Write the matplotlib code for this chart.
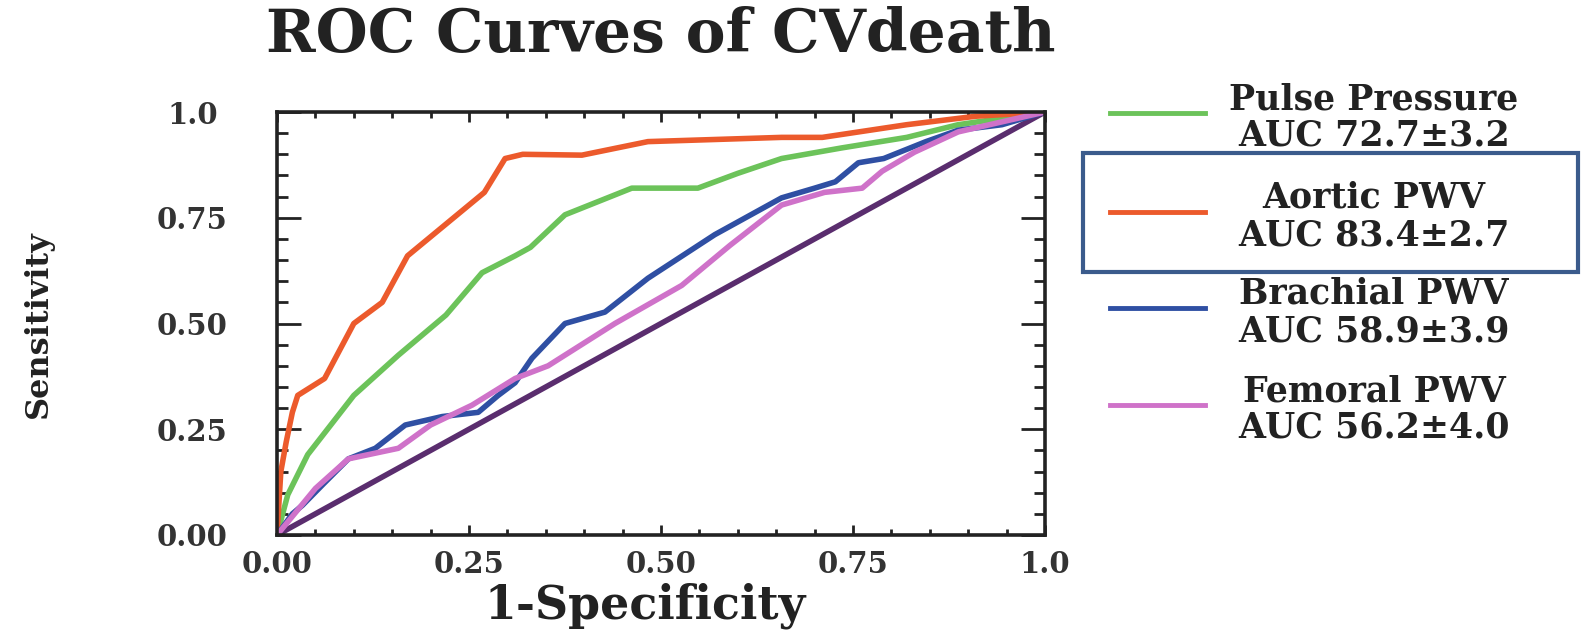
import matplotlib
matplotlib.use("Agg")
import matplotlib.pyplot as plt
from matplotlib.lines import Line2D
from matplotlib.patches import Rectangle
from matplotlib.ticker import MultipleLocator

plt.rcParams['font.family'] = ['DejaVu Serif']
plt.rcParams['font.weight'] = 'bold'

# ROC points (1-specificity, sensitivity) for each marker
pulse_fpr = [0, 0.014, 0.04, 0.07, 0.10, 0.158, 0.22, 0.267, 0.31, 0.33, 0.375,
             0.462, 0.548, 0.60, 0.657, 0.735, 0.82, 0.887, 1.0]
pulse_tpr = [0, 0.095, 0.19, 0.26, 0.33, 0.425, 0.52, 0.62, 0.66, 0.68, 0.757,
             0.82, 0.82, 0.855, 0.89, 0.915, 0.94, 0.97, 1.0]

aortic_fpr = [0, 0.005, 0.012, 0.02, 0.027, 0.062, 0.10, 0.137, 0.17, 0.21, 0.27,
              0.297, 0.32, 0.397, 0.483, 0.657, 0.71, 0.82, 0.91, 1.0]
aortic_tpr = [0, 0.15, 0.22, 0.29, 0.33, 0.37, 0.50, 0.55, 0.66, 0.72, 0.81,
              0.89, 0.90, 0.898, 0.93, 0.94, 0.94, 0.97, 0.99, 1.0]

brachial_fpr = [0, 0.02, 0.033, 0.06, 0.093, 0.128, 0.167, 0.215, 0.262, 0.288,
                0.31, 0.332, 0.375, 0.427, 0.483, 0.57, 0.657, 0.70, 0.727,
                0.757, 0.79, 0.845, 0.887, 0.944, 1.0]
brachial_tpr = [0, 0.05, 0.07, 0.12, 0.18, 0.205, 0.26, 0.28, 0.29, 0.33,
                0.36, 0.418, 0.50, 0.527, 0.607, 0.71, 0.797, 0.82, 0.835,
                0.88, 0.89, 0.93, 0.957, 0.97, 1.0]

femoral_fpr = [0, 0.05, 0.093, 0.158, 0.20, 0.254, 0.31, 0.353, 0.44, 0.527,
               0.59, 0.657, 0.713, 0.762, 0.788, 0.83, 0.887, 1.0]
femoral_tpr = [0, 0.11, 0.18, 0.205, 0.26, 0.307, 0.37, 0.40, 0.50, 0.59,
               0.685, 0.78, 0.81, 0.82, 0.86, 0.905, 0.953, 1.0]

names = ['Pulse Pressure', 'Aortic PWV', 'Brachial PWV', 'Femoral PWV']
auc = ['72.7±3.2', '83.4±2.7', '58.9±3.9', '56.2±4.0']
colors = ['#6cc35a', '#ec5a2c', '#2f4fa3', '#cf72c9']
curves = [(pulse_fpr, pulse_tpr), (aortic_fpr, aortic_tpr),
          (brachial_fpr, brachial_tpr), (femoral_fpr, femoral_tpr)]

W, H = 1581, 632
fig = plt.figure(figsize=(W / 100, H / 100), dpi=100)
ax = fig.add_axes([277 / W, 1 - 535 / H, (1045 - 277) / W, (535 - 112) / H])

ax.plot([0, 1], [0, 1], color='#5a2d6e', lw=4, zorder=1)
for (x, y), c in zip(curves, colors):
    ax.plot(x, y, color=c, lw=4, solid_joinstyle='round')

ax.set_xlim(0, 1)
ax.set_ylim(0, 1)
ax.xaxis.set_major_locator(MultipleLocator(0.25))
ax.xaxis.set_minor_locator(MultipleLocator(0.05))
ax.yaxis.set_major_locator(MultipleLocator(0.25))
ax.yaxis.set_minor_locator(MultipleLocator(0.05))
ax.set_xticklabels(['', '0.00', '0.25', '0.50', '0.75', '1.0'])
ax.set_yticklabels(['', '0.00', '0.25', '0.50', '0.75', '1.0'])
ax.tick_params(which='both', direction='in', top=True, right=True,
               width=2, color='#222222', labelsize=21, labelcolor='#333333')
ax.tick_params(axis='y', which='major', length=17, pad=61)
ax.tick_params(axis='y', which='minor', length=8)
ax.tick_params(axis='x', which='major', length=7, pad=11)
ax.tick_params(axis='x', which='minor', length=4)
for t in ax.get_yticklabels():
    t.set_horizontalalignment('center')
for s in ax.spines.values():
    s.set_linewidth(2.6)
    s.set_color('#222222')

fig.text(661 / W, 1 - 35 / H, 'ROC Curves of CVdeath', ha='center', va='center',
         fontsize=43, color='#222222')
fig.text(645 / W, 1 - 606 / H, '1-Specificity', ha='center', va='center',
         fontsize=33, color='#222222')
fig.text(38 / W, 1 - 324 / H, 'Sensitivity', ha='center', va='center',
         rotation=90, fontsize=23, color='#222222')

# legend: short line + two centred text rows per marker
line_y = [113, 212, 308, 405]
for name, a, c, ly in zip(names, auc, colors, line_y):
    fig.add_artist(Line2D([1110 / W, 1205 / W], [1 - ly / H, 1 - ly / H],
                          color=c, lw=3.5, transform=fig.transFigure))
    fig.text(1374 / W, 1 - (ly - 14) / H, name, ha='center', va='center',
             fontsize=25, color='#222222')
    fig.text(1374 / W, 1 - (ly + 23) / H, 'AUC ' + a, ha='center', va='center',
             fontsize=25, color='#222222')

fig.add_artist(Rectangle((1083 / W, 1 - 272 / H), (1578 - 1083) / W, (272 - 153) / H,
                         transform=fig.transFigure, fill=False,
                         edgecolor='#3b5b8c', lw=3))

fig.savefig('out.png', dpi=100)
